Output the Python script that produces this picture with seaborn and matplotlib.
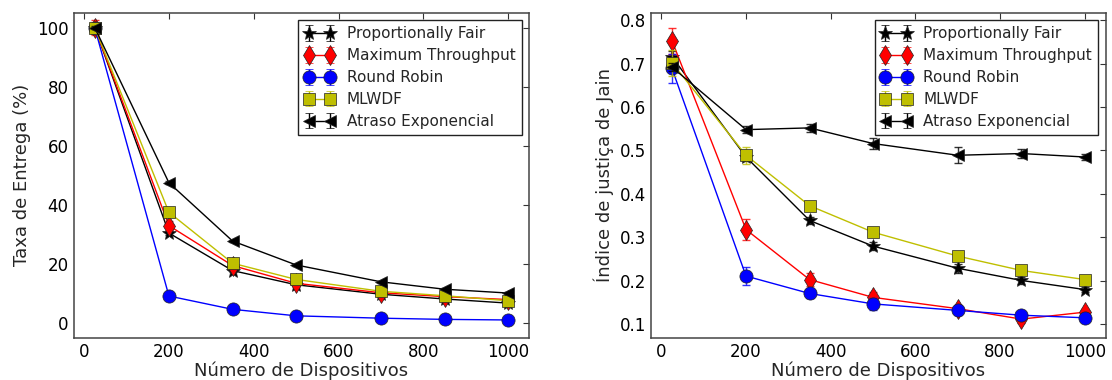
import numpy as np
import pandas as pd
import matplotlib
matplotlib.use("Agg")
import matplotlib.pyplot as plt
import seaborn as sns

# ---------------- data ----------------
devices = [25, 200, 350, 500, 700, 850, 1000]
series_names = ["Proportionally Fair", "Maximum Throughput", "Round Robin",
                "MLWDF", "Atraso Exponencial"]

entrega_pf = [100, 30.5, 17.8, 13.0, 9.8, 8.2, 6.8]
entrega_mt = [100, 33.0, 19.5, 13.5, 10.3, 9.0, 8.0]
entrega_rr = [100, 9.2, 4.7, 2.5, 1.7, 1.3, 1.1]
entrega_mlwdf = [100, 37.5, 20.3, 14.8, 10.8, 9.3, 7.6]
entrega_ae = [100, 47.5, 27.8, 19.7, 14.0, 11.5, 10.2]

entrega_err_pf = [1.0, 0.6, 0.5, 0.5, 0.4, 0.4, 0.4]
entrega_err_mt = [2.5, 1.5, 0.6, 0.5, 0.4, 0.4, 0.4]
entrega_err_rr = [1.0, 0.4, 0.3, 0.2, 0.2, 0.2, 0.2]
entrega_err_mlwdf = [0.8, 0.6, 0.5, 0.4, 0.4, 0.4, 0.4]
entrega_err_ae = [0.5, 0.5, 0.5, 0.4, 0.4, 0.4, 0.4]

jain_pf = [0.716, 0.485, 0.339, 0.280, 0.229, 0.201, 0.180]
jain_mt = [0.753, 0.318, 0.203, 0.162, 0.136, 0.112, 0.128]
jain_rr = [0.689, 0.211, 0.171, 0.147, 0.132, 0.121, 0.115]
jain_mlwdf = [0.702, 0.489, 0.373, 0.312, 0.257, 0.224, 0.203]
jain_ae = [0.692, 0.548, 0.552, 0.516, 0.489, 0.493, 0.485]

jain_err_pf = [0.012, 0.010, 0.008, 0.010, 0.010, 0.008, 0.006]
jain_err_mt = [0.030, 0.025, 0.015, 0.012, 0.008, 0.010, 0.008]
jain_err_rr = [0.033, 0.020, 0.010, 0.013, 0.010, 0.008, 0.006]
jain_err_mlwdf = [0.030, 0.020, 0.008, 0.008, 0.008, 0.008, 0.008]
jain_err_ae = [0.010, 0.008, 0.010, 0.012, 0.018, 0.010, 0.008]

# ---------------- style ----------------
sns.set_theme(style="white")
plt.rcParams["font.family"] = ["DejaVu Sans"]
plt.rcParams.update({
    "xtick.direction": "in", "ytick.direction": "in",
    "xtick.top": True, "ytick.right": True,
    "xtick.major.size": 4.5, "ytick.major.size": 4.5,
    "xtick.major.width": 0.8, "ytick.major.width": 0.8,
    "xtick.color": "#333333", "ytick.color": "#333333",
    "xtick.labelcolor": "black", "ytick.labelcolor": "black",
    "axes.edgecolor": "#444444", "axes.linewidth": 1.1,
    "xtick.labelsize": 12, "ytick.labelsize": 12,
    "axes.labelsize": 13,
})

colors = ["black", "red", "blue", (0.75, 0.75, 0.0), "black"]
markers = ["*", "d", "o", "s", "<"]
msizes = [10, 10, 9.5, 8.5, 9]

fig = plt.figure(figsize=(11.12, 3.8), dpi=100)
ax1 = fig.add_axes([0.0661, 0.1105, 0.410, 0.856])
ax2 = fig.add_axes([0.5852, 0.1105, 0.4094, 0.856])

panels = [
    (ax1, [entrega_pf, entrega_mt, entrega_rr, entrega_mlwdf, entrega_ae],
     [entrega_err_pf, entrega_err_mt, entrega_err_rr, entrega_err_mlwdf, entrega_err_ae],
     "Taxa de Entrega (%)", (-5, 105), [0, 20, 40, 60, 80, 100], None),
    (ax2, [jain_pf, jain_mt, jain_rr, jain_mlwdf, jain_ae],
     [jain_err_pf, jain_err_mt, jain_err_rr, jain_err_mlwdf, jain_err_ae],
     "Índice de justiça de Jain", (0.0685, 0.817), [0.1, 0.2, 0.3, 0.4, 0.5, 0.6, 0.7, 0.8], "%.1f"),
]

for ax, values, errors, ylabel, ylim, yticks, fmt in panels:
    handles = []
    for name, vals, errs, c, m, ms in zip(series_names, values, errors, colors, markers, msizes):
        df = pd.DataFrame({"x": devices, "y": vals})
        ax.errorbar(devices, vals, yerr=errs, fmt="none", ecolor=c, elinewidth=1.0,
                    capsize=3, capthick=1.0, alpha=0.8)
        sns.lineplot(data=df, x="x", y="y", ax=ax, color=c, marker=m, markersize=ms,
                     markeredgecolor="#222222", markeredgewidth=0.5, linewidth=1.0,
                     alpha=1.0, legend=False, estimator=None, sort=False)
        h = ax.errorbar([np.nan], [np.nan], yerr=[np.nan], color=c, marker=m,
                        markersize=ms, markeredgecolor="#222222", markeredgewidth=0.5,
                        linewidth=1.0, capsize=3, label=name)
        handles.append(h)
    ax.set_xlim(-25, 1050)
    ax.set_ylim(*ylim)
    ax.set_xticks([0, 200, 400, 600, 800, 1000])
    ax.set_yticks(yticks)
    if fmt:
        ax.set_yticklabels([fmt % t for t in yticks])
    ax.set_xlabel("Número de Dispositivos", labelpad=0.5)
    ax.set_ylabel(ylabel, labelpad=4)
    leg = ax.legend(handles=handles, loc="upper right", numpoints=2, fontsize=11,
                    fancybox=False, framealpha=1.0, edgecolor="#222222",
                    borderaxespad=0.5, handlelength=2.0, labelspacing=0.45)
    leg.get_frame().set_linewidth(1.0)
    for t in ax.get_xticklabels() + ax.get_yticklabels():
        t.set_color("black")

fig.savefig("out.png", dpi=100)
